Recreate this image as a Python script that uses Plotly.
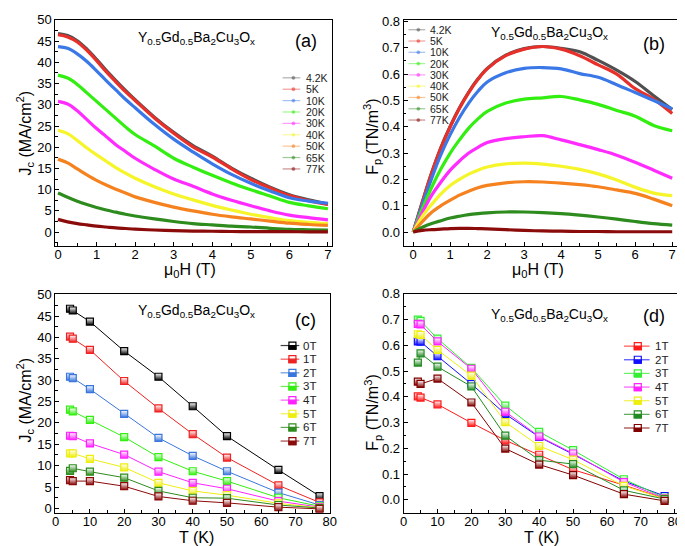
import plotly.graph_objects as go

W, H = 685, 546
FONT = "Arial, Liberation Sans, sans-serif"

# ── (a)/(b) field sweeps ─────────────────────────────────────────────────────
field = [0, 0.25, 0.5, 0.75, 1.0, 1.25, 1.5, 1.75, 2.0, 2.5, 3.0, 3.5, 4.0, 4.5, 5.0, 5.5, 6.0, 6.5, 7.0]
temp_labels = ["4.2K", "5K", "10K", "20K", "30K", "40K", "50K", "65K", "77K"]
temp_colors = ["#505050", "#e8302a", "#3b78e7", "#33ee11", "#ff2bff",
               "#f5f52a", "#f5821f", "#2e8b1e", "#8b0a0a"]

jc_4p2 = [46.8, 46.3, 45.1, 43.1, 40.7, 38.1, 35.7, 33.4, 31.2, 27.1, 23.5, 20.4, 17.9, 15.1, 12.7, 10.6, 8.8, 7.6, 6.6]
jc_5 = [46.5, 46.0, 44.8, 42.8, 40.4, 37.8, 35.4, 33.1, 31.0, 26.9, 23.3, 20.1, 17.7, 14.9, 12.4, 10.4, 8.6, 7.4, 6.5]
jc_10 = [43.7, 43.3, 42.0, 40.2, 38.0, 35.7, 33.5, 31.3, 29.3, 25.4, 21.9, 18.9, 16.1, 13.6, 11.5, 9.7, 8.1, 7.3, 6.8]
jc_20 = [37.0, 36.3, 34.8, 32.8, 30.8, 28.8, 26.8, 24.8, 23.0, 20.3, 17.4, 15.3, 13.4, 11.6, 10.0, 8.5, 7.0, 6.2, 5.5]
jc_30 = [30.8, 30.2, 28.6, 26.5, 24.4, 22.5, 20.6, 19.0, 17.4, 14.8, 12.5, 10.8, 9.0, 7.5, 6.2, 5.0, 4.0, 3.4, 2.9]
jc_40 = [24.0, 23.2, 21.6, 19.8, 18.2, 16.7, 15.2, 13.9, 12.7, 10.7, 9.0, 7.6, 6.3, 5.2, 4.2, 3.4, 2.7, 2.3, 2.0]
jc_50 = [17.2, 16.3, 14.9, 13.5, 12.2, 11.1, 10.1, 9.2, 8.3, 7.0, 5.9, 5.0, 4.2, 3.6, 3.1, 2.6, 2.1, 1.8, 1.6]
jc_65 = [9.2, 8.2, 7.3, 6.5, 5.8, 5.2, 4.7, 4.2, 3.8, 3.1, 2.5, 2.0, 1.7, 1.4, 1.2, 0.9, 0.65, 0.55, 0.45]
jc_77 = [3.0, 2.4, 2.0, 1.7, 1.4, 1.2, 1.0, 0.85, 0.7, 0.5, 0.35, 0.25, 0.2, 0.15, 0.12, 0.1, 0.1, 0.08, 0.08]
jc_curves = [jc_4p2, jc_5, jc_10, jc_20, jc_30, jc_40, jc_50, jc_65, jc_77]

fp_4p2 = [0, 0.116, 0.226, 0.322, 0.402, 0.472, 0.532, 0.582, 0.622, 0.672, 0.697, 0.705, 0.698, 0.685, 0.652, 0.615, 0.572, 0.518, 0.465]
fp_5 = [0, 0.115, 0.225, 0.320, 0.400, 0.470, 0.530, 0.580, 0.620, 0.670, 0.695, 0.705, 0.695, 0.670, 0.635, 0.600, 0.545, 0.505, 0.450]
fp_10 = [0, 0.105, 0.205, 0.295, 0.370, 0.435, 0.490, 0.535, 0.570, 0.605, 0.622, 0.625, 0.620, 0.602, 0.588, 0.560, 0.530, 0.500, 0.468]
fp_20 = [0, 0.090, 0.170, 0.240, 0.300, 0.350, 0.395, 0.430, 0.458, 0.490, 0.505, 0.510, 0.515, 0.502, 0.485, 0.462, 0.440, 0.405, 0.385]
fp_30 = [0, 0.075, 0.140, 0.190, 0.235, 0.270, 0.300, 0.322, 0.340, 0.355, 0.362, 0.366, 0.350, 0.332, 0.313, 0.292, 0.265, 0.235, 0.204]
fp_40 = [0, 0.060, 0.105, 0.145, 0.177, 0.200, 0.220, 0.235, 0.247, 0.259, 0.262, 0.258, 0.250, 0.238, 0.221, 0.198, 0.170, 0.148, 0.138]
fp_50 = [0, 0.040, 0.075, 0.100, 0.121, 0.140, 0.155, 0.168, 0.177, 0.187, 0.191, 0.190, 0.186, 0.180, 0.172, 0.160, 0.147, 0.125, 0.100]
fp_65 = [0, 0.018, 0.032, 0.043, 0.053, 0.060, 0.066, 0.070, 0.073, 0.076, 0.076, 0.074, 0.070, 0.064, 0.057, 0.049, 0.040, 0.032, 0.026]
fp_77 = [0, 0.006, 0.009, 0.011, 0.013, 0.014, 0.014, 0.013, 0.012, 0.009, 0.006, 0.004, 0.003, 0.002, 0.002, 0.001, 0.001, 0.001, 0.001]
fp_curves = [fp_4p2, fp_5, fp_10, fp_20, fp_30, fp_40, fp_50, fp_65, fp_77]

# ── (c)/(d) temperature dependence ───────────────────────────────────────────
temps = [4.2, 5, 10, 20, 30, 40, 50, 65, 77]

jc_field_labels = ["0T", "1T", "2T", "3T", "4T", "5T", "6T", "7T"]
jc_field_colors = ["#000000", "#ee2222", "#3a76dc", "#33ee11", "#ff22ff", "#eeee11", "#2e8b1e", "#8b0a0a"]
jc_t = [
    [46.7, 46.3, 43.7, 36.8, 30.8, 23.9, 16.9, 9.0, 2.9],
    [40.2, 39.7, 37.1, 29.8, 23.4, 17.4, 11.9, 5.4, 1.4],
    [30.8, 30.5, 27.9, 22.1, 16.5, 12.3, 8.7, 3.7, 0.8],
    [23.1, 22.7, 20.7, 16.7, 12.0, 8.7, 6.4, 2.5, 0.5],
    [17.0, 16.9, 15.2, 12.6, 8.6, 6.0, 4.6, 1.7, 0.3],
    [12.9, 12.9, 11.6, 9.6, 6.0, 4.1, 3.1, 1.2, 0.15],
    [8.8, 9.4, 8.6, 7.2, 4.1, 2.5, 2.4, 0.8, 0.1],
    [6.6, 6.4, 6.4, 5.2, 2.8, 1.8, 1.3, 0.3, -0.1],
]

fp_field_labels = ["1T", "2T", "3T", "4T", "5T", "6T", "7T"]
fp_field_colors = ["#ff1a1a", "#1010ff", "#33ee33", "#ff22ff", "#eeee11", "#228b22", "#800000"]
fp_t = [
    [0.402, 0.397, 0.371, 0.299, 0.231, 0.175, 0.117, 0.057, 0.005],
    [0.615, 0.614, 0.558, 0.450, 0.333, 0.244, 0.177, 0.073, 0.015],
    [0.700, 0.695, 0.626, 0.512, 0.366, 0.264, 0.193, 0.080, 0.008],
    [0.683, 0.681, 0.615, 0.509, 0.342, 0.246, 0.180, 0.069, 0.006],
    [0.643, 0.640, 0.582, 0.482, 0.302, 0.209, 0.156, 0.054, 0.004],
    [0.533, 0.569, 0.517, 0.440, 0.249, 0.154, 0.139, 0.037, 0.003],
    [0.459, 0.450, 0.471, 0.378, 0.199, 0.137, 0.096, 0.022, -0.004],
]

formula = "Y<sub>0.5</sub>Gd<sub>0.5</sub>Ba<sub>2</sub>Cu<sub>3</sub>O<sub>x</sub>"
jc_title = "J<sub>c</sub> (MA/cm<sup>2</sup>)"
fp_title = "F<sub>p</sub> (TN/m<sup>3</sup>)"


def px(x):
    return x / W


def py(y):
    return 1 - y / H


fig = go.Figure()

# panel (a)
for name, col, ys in zip(temp_labels, temp_colors, jc_curves):
    fig.add_trace(go.Scatter(x=field, y=ys, name=name, mode="lines",
                             line=dict(color=col, width=3.2, shape="spline"),
                             xaxis="x", yaxis="y", showlegend=False))
# panel (b)
for name, col, ys in zip(temp_labels, temp_colors, fp_curves):
    fig.add_trace(go.Scatter(x=field, y=ys, name=name, mode="lines",
                             line=dict(color=col, width=3.2, shape="spline"),
                             xaxis="x2", yaxis="y2", showlegend=False))


def half_marker(col):
    return dict(symbol="square", size=7, color="white",
                gradient=dict(type="vertical", color=col),
                line=dict(color=col, width=1.2))


# panel (c)
for name, col, ys in zip(jc_field_labels, jc_field_colors, jc_t):
    fig.add_trace(go.Scatter(x=temps, y=ys, name=name, mode="lines+markers",
                             line=dict(color=col, width=1), marker=half_marker(col),
                             xaxis="x3", yaxis="y3", showlegend=False))
# panel (d)
for name, col, ys in zip(fp_field_labels, fp_field_colors, fp_t):
    fig.add_trace(go.Scatter(x=temps, y=ys, name=name, mode="lines+markers",
                             line=dict(color=col, width=1), marker=half_marker(col),
                             xaxis="x4", yaxis="y4", showlegend=False))


# ── manual legends (plotly legend rows are too tall for this layout) ─────────
def legend_block(labels, colors, x0, x1, xm, xt, y_first, step, fsize, style):
    for i, (lab, col) in enumerate(zip(labels, colors)):
        yy = py(y_first + i * step)
        fig.add_shape(type="line", xref="paper", yref="paper",
                      x0=px(x0), x1=px(x1), y0=yy, y1=yy,
                      line=dict(color=col, width=1.2),
                      opacity=0.45 if style == "dot" else 0.75)
        if style == "dot":
            fig.add_shape(type="circle", xref="paper", yref="paper",
                          xsizemode="pixel", ysizemode="pixel",
                          xanchor=px(xm), yanchor=yy, x0=-1.6, x1=1.6, y0=-1.6, y1=1.6,
                          fillcolor=col, line=dict(color=col, width=0.5), opacity=0.6)
        else:
            fig.add_shape(type="rect", xref="paper", yref="paper",
                          xsizemode="pixel", ysizemode="pixel",
                          xanchor=px(xm), yanchor=yy, x0=-3.5, x1=3.5, y0=-3.5, y1=3.5,
                          fillcolor="white", line=dict(color=col, width=1.2))
            fig.add_shape(type="rect", xref="paper", yref="paper",
                          xsizemode="pixel", ysizemode="pixel",
                          xanchor=px(xm), yanchor=yy, x0=-3.5, x1=3.5, y0=-3.5, y1=0,
                          fillcolor=col, line=dict(color=col, width=1.2))
        fig.add_annotation(text=lab, x=px(xt), y=yy, xref="paper", yref="paper",
                           xanchor="left", yanchor="middle", showarrow=False,
                           font=dict(size=fsize, color="#222"))


legend_block(temp_labels, temp_colors, 275, 293, 286, 297, 64, 11.6, 10.5, "dot")
legend_block(temp_labels, temp_colors, 403, 420, 413, 423, 15, 11.5, 10.5, "dot")
legend_block(jc_field_labels, jc_field_colors, 273, 292, 285, 294, 336.7, 13.9, 11.5, "sq")
legend_block(fp_field_labels, fp_field_colors, 622, 648, 636, 651, 337.3, 13.9, 11.5, "sq")


def note(text, x, y, size, angle=0):
    fig.add_annotation(text=text, x=px(x), y=py(y), xref="paper", yref="paper",
                       xanchor="center", yanchor="middle", showarrow=False,
                       textangle=angle, font=dict(size=size, color="black"))


# ── text labels ──────────────────────────────────────────────────────────────
for cx, cy, lx, ly, lab in [(188, 23, 299, 26, "(a)"), (546, 18, 652, 30, "(b)"),
                            (188, 302, 298, 311, "(c)"), (546, 306, 652, 307, "(d)")]:
    note(formula, cx, cy, 14)
    note(lab, lx, ly, 18)

# axis titles
note("μ<sub>0</sub>H (T)", 181, 260, 16)
note("μ<sub>0</sub>H (T)", 535, 260, 16)
note("T (K)", 188, 532, 16)
note("T (K)", 538, 532, 16)
note(jc_title, 13, 120, 16, -90)
note(fp_title, 366, 124, 16, -90)
note(jc_title, 13, 392, 16, -90)
note(fp_title, 366, 405, 16, -90)

# ── axes ─────────────────────────────────────────────────────────────────────
base = dict(showline=True, linecolor="black", linewidth=1, mirror=True,
            ticks="inside", ticklen=4, tickwidth=1, tickcolor="black",
            showgrid=False, zeroline=False, ticklabeloverflow="allow",
            tickfont=dict(size=13, color="black"))

xa = dict(base, range=[-0.07, 7.1], dtick=1, tick0=0, ticklabelstandoff=-3,
          minor=dict(ticks="inside", ticklen=2.5, dtick=0.5, tickcolor="black"))
xb = dict(base, range=[-0.26, 7.16], dtick=1, tick0=0, ticklabelstandoff=-3,
          minor=dict(ticks="inside", ticklen=2.5, dtick=0.5, tickcolor="black"))
xt = dict(base, range=[-0.1, 80], dtick=10, tick0=0, ticklabelstandoff=-3,
          minor=dict(ticks="inside", ticklen=2.5, dtick=5, tickcolor="black"))
xt4 = dict(xt, range=[0, 81])
yj = dict(base, dtick=5, tick0=0,
          minor=dict(ticks="inside", ticklen=2.5, dtick=2.5, tickcolor="black"))
yf = dict(base, dtick=0.1, tick0=0, tickformat=".1f",
          minor=dict(ticks="inside", ticklen=2.5, dtick=0.05, tickcolor="black"))

x_left, x_right = [px(44), px(325)], [px(398), px(677)]
y_top, y_bot = [py(235), py(5)], [py(507), py(284)]

fig.update_layout(
    width=W, height=H,
    margin=dict(l=0, r=0, t=0, b=0),
    paper_bgcolor="white", plot_bgcolor="white",
    font=dict(family=FONT, color="black"),
    showlegend=False,
    xaxis=dict(xa, domain=x_left, anchor="y"),
    yaxis=dict(yj, domain=y_top, anchor="x", range=[-3.2, 50]),
    xaxis2=dict(xb, domain=x_right, anchor="y2"),
    yaxis2=dict(yf, domain=y_top, anchor="x2", range=[-0.052, 0.806]),
    xaxis3=dict(xt, domain=[px(44), px(323)], anchor="y3"),
    yaxis3=dict(yj, domain=y_bot, anchor="x3", range=[-1, 50.2]),
    xaxis4=dict(xt4, domain=x_right, anchor="y4"),
    yaxis4=dict(yf, domain=y_bot, anchor="x4", range=[-0.05, 0.8]),
)

fig.write_html("out.html")
